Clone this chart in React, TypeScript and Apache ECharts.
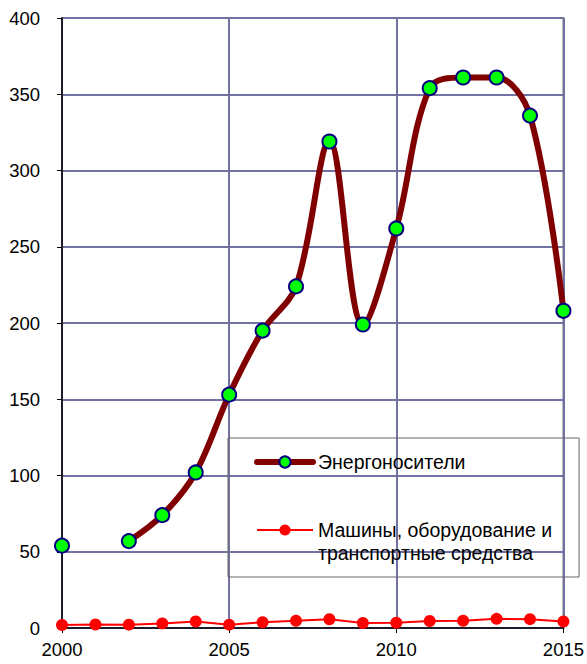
import React, { useEffect, useRef } from "react";
import * as echarts from "echarts";

const years: number[] = [2000, 2001, 2002, 2003, 2004, 2005, 2006, 2007, 2008, 2009, 2010, 2011, 2012, 2013, 2014, 2015];
const energy: (number | null)[] = [54, null, 57, 74, 102, 153, 195, 224, 319, 199, 262, 354, 361, 361, 336, 208];
const machines: number[] = [2, 2.3, 2.2, 3, 4.3, 2.2, 3.8, 4.8, 5.7, 3.3, 3.4, 4.6, 4.8, 6, 5.8, 4.3];
const energyName = "Энергоносители";
const machinesName = "Машины, оборудование и транспортные средства";
const machinesLegendText = "\nМашины, оборудование и\nтранспортные средства";

const FONT = "'Liberation Sans', Arial, sans-serif";

export default function App() {
  const ref = useRef<HTMLDivElement>(null);
  useEffect(() => {
    if (!ref.current) return;
    const chart = echarts.init(ref.current, null, { renderer: "svg" });
    const gridColor = "#7272a2";
    chart.setOption({
      animation: false,
      backgroundColor: "#ffffff",
      textStyle: { fontFamily: FONT },
      grid: {
        left: 62,
        right: 21,
        top: 18,
        bottom: 36,
        show: true,
        borderColor: "#8a8a8a",
        borderWidth: 2,
        backgroundColor: "transparent",
      },
      xAxis: {
        type: "value",
        min: 2000,
        max: 2015,
        interval: 5,
        axisLine: { lineStyle: { color: "#000", width: 1.5 } },
        axisTick: { show: true, length: 5, lineStyle: { color: "#000" } },
        axisLabel: {
          color: "#000",
          fontSize: 18.5,
          fontFamily: FONT,
          margin: 12,
          formatter: (v: number) => String(v),
        },
        splitLine: { show: true, lineStyle: { color: gridColor, width: 2 } },
      },
      yAxis: {
        type: "value",
        min: 0,
        max: 400,
        interval: 50,
        axisLine: { show: true, lineStyle: { color: "#000", width: 1.5 } },
        axisTick: { show: true, length: 5, lineStyle: { color: "#000" } },
        axisLabel: { color: "#000", fontSize: 18.5, fontFamily: FONT, margin: 22 },
        splitLine: { show: true, lineStyle: { color: gridColor, width: 2 } },
      },
      legend: {
        orient: "vertical",
        left: 228,
        top: 438,
        padding: [12.5, 27, 12.5, 26],
        itemGap: 22,
        itemWidth: 56,
        itemHeight: 14,
        borderColor: "#666",
        borderWidth: 1,
        backgroundColor: "transparent",
        textStyle: { color: "#000", fontSize: 19.5, fontFamily: FONT, lineHeight: 23 },
        formatter: (name: string) => (name === machinesName ? machinesLegendText : name),
        data: [
          { name: energyName, lineStyle: { width: 6, cap: "round" } },
          { name: machinesName, lineStyle: { width: 2 } },
        ],
      },
      series: [
        {
          name: machinesName,
          type: "line",
          data: years.map((y, i) => [y, machines[i]]),
          lineStyle: { color: "#ff0000", width: 2 },
          itemStyle: { color: "#ff0000", borderColor: "#ff0000", borderWidth: 0 },
          symbol: "circle",
          symbolSize: 12,
          showAllSymbol: true,
          z: 3,
        },
        {
          name: energyName,
          type: "line",
          smooth: 0.35,
          connectNulls: false,
          data: years.map((y, i) => [y, energy[i]]),
          lineStyle: { color: "#800000", width: 6, cap: "round", join: "round" },
          itemStyle: { color: "#00ff00", borderColor: "#000080", borderWidth: 2 },
          symbol: "circle",
          symbolSize: 14,
          showAllSymbol: true,
          z: 4,
        },
      ],
    });
    return () => chart.dispose();
  }, []);
  return (
    <div
      ref={ref}
      style={{ position: "fixed", left: 0, top: 0, width: 587, height: 664, background: "#fff" }}
    />
  );
}
